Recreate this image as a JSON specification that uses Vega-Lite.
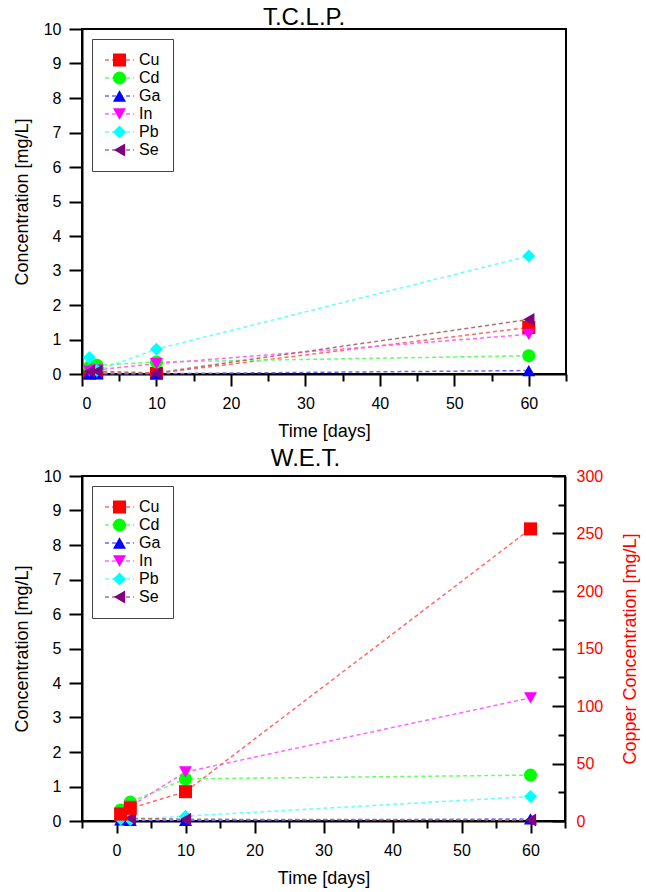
{
  "$schema": "https://vega.github.io/schema/vega-lite/v6.json",
  "padding": {"left": 12, "top": 5, "right": 3, "bottom": 0},
  "background": "white",
  "datasets": {
    "tclp": [
      {"element": "Cu", "day": 1, "value": 0.02},
      {"element": "Cu", "day": 2, "value": 0.03},
      {"element": "Cu", "day": 10, "value": 0.02},
      {"element": "Cu", "day": 60, "value": 1.35},
      {"element": "Cd", "day": 1, "value": 0.2},
      {"element": "Cd", "day": 2, "value": 0.25},
      {"element": "Cd", "day": 10, "value": 0.35},
      {"element": "Cd", "day": 60, "value": 0.53},
      {"element": "Ga", "day": 1, "value": 0.01},
      {"element": "Ga", "day": 2, "value": 0.01},
      {"element": "Ga", "day": 10, "value": 0.01},
      {"element": "Ga", "day": 60, "value": 0.1},
      {"element": "In", "day": 1, "value": 0.08},
      {"element": "In", "day": 2, "value": 0.12},
      {"element": "In", "day": 10, "value": 0.3},
      {"element": "In", "day": 60, "value": 1.15},
      {"element": "Pb", "day": 1, "value": 0.48},
      {"element": "Pb", "day": 2, "value": 0.1},
      {"element": "Pb", "day": 10, "value": 0.72},
      {"element": "Pb", "day": 60, "value": 3.42},
      {"element": "Se", "day": 1, "value": 0.08},
      {"element": "Se", "day": 2, "value": 0.08},
      {"element": "Se", "day": 10, "value": 0.03},
      {"element": "Se", "day": 60, "value": 1.58}
    ],
    "wet": [
      {"element": "Cu", "day": 0.6, "value": 6},
      {"element": "Cu", "day": 2, "value": 11},
      {"element": "Cu", "day": 10, "value": 25.5},
      {"element": "Cu", "day": 60, "value": 254},
      {"element": "Cd", "day": 0.6, "value": 0.32},
      {"element": "Cd", "day": 2, "value": 0.55},
      {"element": "Cd", "day": 10, "value": 1.22},
      {"element": "Cd", "day": 60, "value": 1.33},
      {"element": "Ga", "day": 0.6, "value": 0.03},
      {"element": "Ga", "day": 2, "value": 0.02},
      {"element": "Ga", "day": 10, "value": 0.02},
      {"element": "Ga", "day": 60, "value": 0.06},
      {"element": "In", "day": 0.6, "value": 0.22},
      {"element": "In", "day": 2, "value": 0.42},
      {"element": "In", "day": 10, "value": 1.42},
      {"element": "In", "day": 60, "value": 3.57},
      {"element": "Pb", "day": 0.6, "value": 0.06},
      {"element": "Pb", "day": 2, "value": 0.04},
      {"element": "Pb", "day": 10, "value": 0.14},
      {"element": "Pb", "day": 60, "value": 0.71},
      {"element": "Se", "day": 0.6, "value": 0.18},
      {"element": "Se", "day": 2, "value": 0.08},
      {"element": "Se", "day": 10, "value": 0.05},
      {"element": "Se", "day": 60, "value": 0.03}
    ]
  },
  "vconcat": [
    {
      "title": {"text": "T.C.L.P.", "frame": "group", "anchor": "middle", "dx": -20, "offset": -9},
      "width": 484,
      "height": 345,
      "data": {"name": "tclp"},
      "encoding": {
        "x": {"field": "day", "type": "quantitative", "title": "Time [days]",
          "scale": {"domain": [0, 65], "nice": false, "zero": false},
          "axis": {"values": [0,5,10,15,20,25,30,35,40,45,50,55,60,65],
            "labelExpr": "datum.value % 10 === 0 && datum.value <= 60 ? datum.label : ''",
            "tickSize": {"condition": {"test": "datum.value % 10 !== 0", "value": 7}, "value": 12},
            "labelPadding": 9, "labelOverlap": false, "titlePadding": 11}},
        "y": {"field": "value", "type": "quantitative", "title": "Concentration [mg/L]",
          "scale": {"domain": [0, 10], "nice": false},
          "axis": {"values": [0,0.5,1,1.5,2,2.5,3,3.5,4,4.5,5,5.5,6,6.5,7,7.5,8,8.5,9,9.5,10],
            "format": "d",
            "labelExpr": "datum.value % 1 === 0 ? datum.label : ''",
            "tickSize": {"condition": {"test": "datum.value % 1 !== 0", "value": 7}, "value": 13},
            "labelPadding": 8, "labelOverlap": false, "titlePadding": 12}}
      },
      "layer": [
        {
          "mark": {"type": "line", "strokeDash": [4, 3], "strokeWidth": 1.5},
          "encoding": {
            "stroke": {"field": "element", "type": "nominal",
              "scale": {"domain": {"expr": "['Cu','Cd','Ga','In','Pb','Se']"},
                "range": ["#ff6a6a", "#66ff66", "#6a6aff", "#ff66ff", "#66ffff", "#b07070"]},
              "legend": {"title": null, "orient": "none", "legendX": 10, "legendY": 10,
                "symbolType": "stroke", "symbolSize": 1296, "symbolStrokeWidth": 1.5,
                "symbolDash": [4, 3], "symbolOffset": -7, "labelOffset": 4,
                "strokeColor": "#444", "padding": 12, "clipHeight": 18, "rowPadding": 0,
                "labelFontSize": 16}}
          }
        },
        {
          "mark": {"type": "point", "filled": true, "opacity": 1, "size": 170},
          "encoding": {
            "fill": {"field": "element", "type": "nominal",
              "scale": {"domain": ["Cu", "Cd", "Ga", "In", "Pb", "Se"],
                "range": ["#ff0000", "#00ff00", "#0000ff", "#ff00ff", "#00ffff", "#800080"]},
              "legend": {"title": null, "orient": "none", "legendX": 17.5, "legendY": 10,
                "symbolSize": 170, "labelExpr": "''", "labelOpacity": 0, "padding": 12, "clipHeight": 18,
                "rowPadding": 0, "labelFontSize": 16, "zindex": 2, "symbolOpacity": 1}},
            "shape": {"field": "element", "type": "nominal",
              "scale": {"domain": ["Cu", "Cd", "Ga", "In", "Pb", "Se"],
                "range": ["square", "circle", "triangle-up", "triangle-down", "diamond", "triangle-left"]},
              "legend": {"title": null, "orient": "none", "legendX": 17.5, "legendY": 10,
                "symbolSize": 170, "labelExpr": "''", "labelOpacity": 0, "padding": 12, "clipHeight": 18,
                "rowPadding": 0, "labelFontSize": 16, "zindex": 2, "symbolOpacity": 1}}
          }
        }
      ]
    },
    {
      "title": {"text": "W.E.T.", "frame": "group", "anchor": "middle", "dx": -18, "offset": -3},
      "width": 483,
      "height": 345,
      "data": {"name": "wet"},
      "encoding": {
        "x": {"field": "day", "type": "quantitative", "title": "Time [days]",
          "scale": {"domain": [-5, 65], "nice": false, "zero": false},
          "axis": {"values": [-5,0,5,10,15,20,25,30,35,40,45,50,55,60,65],
            "labelExpr": "datum.value % 10 === 0 && datum.value >= 0 && datum.value <= 60 ? datum.label : ''",
            "tickSize": {"condition": {"test": "datum.value % 10 !== 0", "value": 7}, "value": 12},
            "labelPadding": 9, "labelOverlap": false, "titlePadding": 11}}
      },
      "layer": [
        {
          "transform": [{"filter": "datum.element !== 'Cu'"}],
          "encoding": {
            "y": {"field": "value", "type": "quantitative", "title": "Concentration [mg/L]",
              "scale": {"domain": [0, 10], "nice": false},
              "axis": {"orient": "left", "values": [0,0.5,1,1.5,2,2.5,3,3.5,4,4.5,5,5.5,6,6.5,7,7.5,8,8.5,9,9.5,10],
                "format": "d",
                "labelExpr": "datum.value % 1 === 0 ? datum.label : ''",
                "tickSize": {"condition": {"test": "datum.value % 1 !== 0", "value": 7}, "value": 13},
                "labelPadding": 8, "labelOverlap": false, "titlePadding": 12}}
          },
          "layer": [
            {
              "mark": {"type": "line", "strokeDash": [4, 3], "strokeWidth": 1.5},
              "encoding": {
                "stroke": {"field": "element", "type": "nominal",
                  "scale": {"domain": {"expr": "['Cu','Cd','Ga','In','Pb','Se']"},
                    "range": ["#ff6a6a", "#66ff66", "#6a6aff", "#ff66ff", "#66ffff", "#b07070"]},
                  "legend": {"title": null, "orient": "none", "legendX": 10, "legendY": 10,
                    "symbolType": "stroke", "symbolSize": 1296, "symbolStrokeWidth": 1.5,
                    "symbolDash": [4, 3], "symbolOffset": -7, "labelOffset": 4,
                    "strokeColor": "#444", "padding": 12, "clipHeight": 18, "rowPadding": 0,
                    "labelFontSize": 16}}
              }
            },
            {
              "mark": {"type": "point", "filled": true, "opacity": 1, "size": 170},
              "encoding": {
                "fill": {"field": "element", "type": "nominal",
                  "scale": {"domain": ["Cu", "Cd", "Ga", "In", "Pb", "Se"],
                    "range": ["#ff0000", "#00ff00", "#0000ff", "#ff00ff", "#00ffff", "#800080"]},
                  "legend": {"title": null, "orient": "none", "legendX": 17.5, "legendY": 10,
                    "symbolSize": 170, "labelExpr": "''", "labelOpacity": 0, "padding": 12, "clipHeight": 18,
                    "rowPadding": 0, "labelFontSize": 16, "zindex": 2, "symbolOpacity": 1}},
                "shape": {"field": "element", "type": "nominal",
                  "scale": {"domain": ["Cu", "Cd", "Ga", "In", "Pb", "Se"],
                    "range": ["square", "circle", "triangle-up", "triangle-down", "diamond", "triangle-left"]},
                  "legend": {"title": null, "orient": "none", "legendX": 17.5, "legendY": 10,
                    "symbolSize": 170, "labelExpr": "''", "labelOpacity": 0, "padding": 12, "clipHeight": 18,
                    "rowPadding": 0, "labelFontSize": 16, "zindex": 2, "symbolOpacity": 1}}
              }
            }
          ]
        },
        {
          "transform": [{"filter": "datum.element === 'Cu'"}],
          "encoding": {
            "y": {"field": "value", "type": "quantitative", "title": "Copper Concentration [mg/L]",
              "scale": {"domain": [0, 300], "nice": false},
              "axis": {"orient": "right", "values": [0,25,50,75,100,125,150,175,200,225,250,275,300],
                "labelExpr": "datum.value % 50 === 0 ? datum.label : ''",
                "tickSize": {"condition": {"test": "datum.value % 50 !== 0", "value": -7}, "value": -13},
                "labelPadding": 24, "labelOverlap": false, "labelColor": "#ff0000",
                "titleColor": "#ff0000", "titleAngle": 270, "titleBaseline": "top", "titlePadding": 19}}
          },
          "layer": [
            {
              "mark": {"type": "line", "strokeDash": [4, 3], "strokeWidth": 1.5},
              "encoding": {
                "stroke": {"field": "element", "type": "nominal",
                  "scale": {"domain": {"expr": "['Cu','Cd','Ga','In','Pb','Se']"},
                    "range": ["#ff6a6a", "#66ff66", "#6a6aff", "#ff66ff", "#66ffff", "#b07070"]}}
              }
            },
            {
              "mark": {"type": "point", "filled": true, "opacity": 1, "size": 170},
              "encoding": {
                "fill": {"field": "element", "type": "nominal",
                  "scale": {"domain": ["Cu", "Cd", "Ga", "In", "Pb", "Se"],
                    "range": ["#ff0000", "#00ff00", "#0000ff", "#ff00ff", "#00ffff", "#800080"]}},
                "shape": {"field": "element", "type": "nominal",
                  "scale": {"domain": ["Cu", "Cd", "Ga", "In", "Pb", "Se"],
                    "range": ["square", "circle", "triangle-up", "triangle-down", "diamond", "triangle-left"]}}
              }
            }
          ]
        }
      ],
      "resolve": {"scale": {"y": "independent"}, "axis": {"y": "independent"}}
    }
  ],
  "spacing": 5,
  "resolve": {
    "scale": {"x": "independent", "y": "independent", "fill": "independent", "stroke": "independent", "shape": "independent"},
    "legend": {"fill": "independent", "stroke": "independent", "shape": "independent"}
  },
  "config": {
    "font": "Liberation Sans",
    "view": {"stroke": "black", "strokeWidth": 2},
    "axis": {"grid": false, "domainColor": "black", "domainWidth": 2, "tickColor": "black", "tickWidth": 2,
      "labelFontSize": 16, "labelColor": "black", "titleFontSize": 18, "titleFontWeight": "normal",
      "titleColor": "black", "labelFont": "Liberation Sans", "titleFont": "Liberation Sans"},
    "title": {"fontSize": 24, "fontWeight": "normal", "font": "Liberation Sans", "color": "black"},
    "legend": {"labelFont": "Liberation Sans", "labelColor": "black"}
  }
}
